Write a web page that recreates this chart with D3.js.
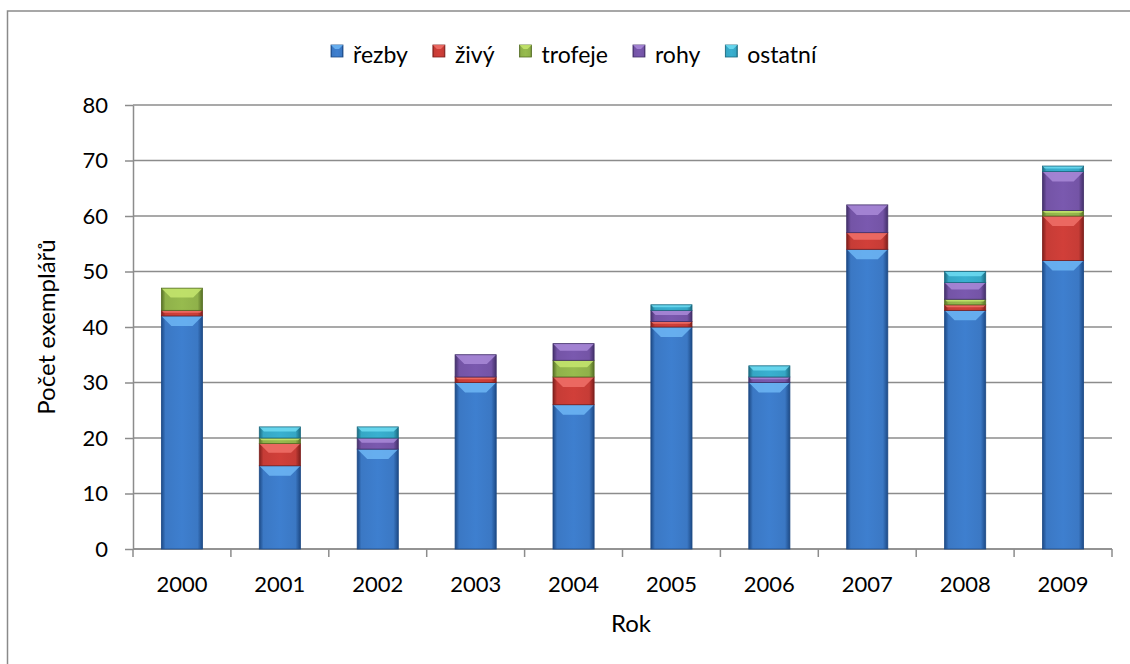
<!DOCTYPE html>
<html>
<head>
<meta charset="utf-8">
<script src="https://cdnjs.cloudflare.com/ajax/libs/d3/7.8.5/d3.min.js"></script>
<style>
  html, body { margin: 0; padding: 0; background: #ffffff; }
  svg { display: block; }
  text { font-family: Lato, "Open Sans", sans-serif; fill: #000; }
</style>
</head>
<body>
<svg id="chart" width="1130" height="664"></svg>
<script>
// ---- data ----
const years   = ["2000","2001","2002","2003","2004","2005","2006","2007","2008","2009"];
const seriesNames = ["řezby","živý","trofeje","rohy","ostatní"];
const rezby   = [42, 15, 18, 30, 26, 40, 30, 54, 43, 52];
const zivy    = [ 1,  4,  0,  1,  5,  1,  0,  3,  1,  8];
const trofeje = [ 4,  1,  0,  0,  3,  0,  0,  0,  1,  1];
const rohy    = [ 0,  0,  2,  4,  3,  2,  1,  5,  3,  7];
const ostatni = [ 0,  2,  2,  0,  0,  1,  2,  0,  2,  1];
const yTicks  = [0, 10, 20, 30, 40, 50, 60, 70, 80];
const yTitle  = "Počet exemplářů";
const xTitle  = "Rok";

// ---- styles ----
const colors = {
  "řezby":   {base:"#3b78c4", dark:"#1d4a86", light:"#6db6f4"},
  "živý":    {base:"#c63c36", dark:"#7e1f1c", light:"#f07068"},
  "trofeje": {base:"#8fb14a", dark:"#566f25", light:"#c6e66e"},
  "rohy":    {base:"#7454a6", dark:"#43306a", light:"#a98ad8"},
  "ostatní": {base:"#36a7c5", dark:"#1b6a80", light:"#6fdcf2"}
};
const gridColor = "#8c8c8c";

const svg = d3.select("#chart");
const pLeft = 133, pRight = 1112, pTop = 105, pBottom = 549;

// chart border
svg.append("rect").attr("x", 7.5).attr("y", 11).attr("width", 1140).attr("height", 700)
  .attr("fill", "#fff").attr("stroke", "#8a8a8a").attr("stroke-width", 1.5);

const table = years.map((yr, i) => ({
  year: yr, "řezby": rezby[i], "živý": zivy[i], "trofeje": trofeje[i], "rohy": rohy[i], "ostatní": ostatni[i]
}));

const x = d3.scaleBand().domain(years).range([pLeft, pRight]).paddingInner(0.58).paddingOuter(0.29);
const y = d3.scaleLinear().domain([0, 80]).range([pBottom, pTop]);

// gradients
const defs = svg.append("defs");
seriesNames.forEach((s, i) => {
  const c = colors[s];
  const g = defs.append("linearGradient").attr("id", "g" + i)
    .attr("x1", "0").attr("x2", "1").attr("y1", "0").attr("y2", "0");
  g.append("stop").attr("offset", "0%").attr("stop-color", c.dark);
  g.append("stop").attr("offset", "10%").attr("stop-color", c.base);
  g.append("stop").attr("offset", "50%").attr("stop-color", d3.color(c.base).brighter(0.15));
  g.append("stop").attr("offset", "88%").attr("stop-color", c.base);
  g.append("stop").attr("offset", "100%").attr("stop-color", c.dark);
});

// gridlines
svg.append("g").selectAll("line").data(yTicks).join("line")
  .attr("x1", pLeft).attr("x2", pRight)
  .attr("y1", d => y(d)).attr("y2", d => y(d))
  .attr("stroke", gridColor).attr("stroke-width", 1.5);

// y axis
const yAxis = d3.axisLeft(y).tickValues(yTicks).tickSize(8).tickPadding(17).tickSizeOuter(0);
const gy = svg.append("g").attr("transform", `translate(${pLeft},0)`).call(yAxis);
gy.select(".domain").attr("stroke", gridColor).attr("stroke-width", 1.5);
gy.selectAll(".tick line").attr("stroke", gridColor).attr("stroke-width", 1.5);
gy.selectAll(".tick text").style("font-family", "Lato, sans-serif").style("font-size", "22px").attr("fill", "#000");

// x axis (ticks at category boundaries)
const boundaries = d3.range(years.length + 1).map(i => pLeft + i * (pRight - pLeft) / years.length);
svg.append("g").selectAll("line").data(boundaries).join("line")
  .attr("x1", d => d).attr("x2", d => d).attr("y1", pBottom).attr("y2", pBottom + 8)
  .attr("stroke", gridColor).attr("stroke-width", 1.5);
svg.append("line").attr("x1", pLeft).attr("x2", pRight).attr("y1", pBottom).attr("y2", pBottom)
  .attr("stroke", gridColor).attr("stroke-width", 1.5);
svg.append("g").selectAll("text").data(years).join("text")
  .attr("x", d => x(d) + x.bandwidth() / 2).attr("y", 592)
  .attr("text-anchor", "middle").style("font-size", "22px").text(d => d);

// stacked bars
const stack = d3.stack().keys(seriesNames)(table);
const bw = x.bandwidth();
stack.forEach((layer, si) => {
  const c = colors[layer.key];
  const g = svg.append("g");
  layer.forEach(d => {
    const v = d[1] - d[0];
    if (v <= 0) return;
    const x0 = x(d.data.year), y0 = y(d[1]), y1 = y(d[0]);
    const h = y1 - y0;
    g.append("rect").attr("x", x0).attr("y", y0).attr("width", bw).attr("height", h)
      .attr("fill", `url(#g${si})`);
    const b = Math.min(10, h * 0.42);
    g.append("polygon")
      .attr("points", [[x0, y0], [x0 + bw, y0], [x0 + bw - b, y0 + b], [x0 + b, y0 + b]].map(p => p.join(",")).join(" "))
      .attr("fill", c.light).attr("opacity", 0.85);
    g.append("rect").attr("x", x0).attr("y", y0).attr("width", bw).attr("height", h)
      .attr("fill", "none").attr("stroke", c.dark).attr("stroke-width", 0.8);
  });
});

// y title
svg.append("text").attr("transform", `translate(55,${(pTop + pBottom) / 2}) rotate(-90)`)
  .attr("text-anchor", "middle").style("font-size", "24px").text(yTitle);
// x title
svg.append("text").attr("x", 631).attr("y", 632).attr("text-anchor", "middle")
  .style("font-size", "24px").text(xTitle);

// legend
const lg = svg.append("g");
let lx = 331;
seriesNames.forEach((s, i) => {
  const c = colors[s];
  lg.append("rect").attr("x", lx).attr("y", 45).attr("width", 12).attr("height", 12)
    .attr("fill", `url(#g${i})`).attr("stroke", c.dark).attr("stroke-width", 0.8);
  lg.append("polygon").attr("points", `${lx},45 ${lx+12},45 ${lx+8},49 ${lx+4},49`)
    .attr("fill", c.light).attr("opacity", 0.85);
  const t = lg.append("text").attr("x", lx + 22).attr("y", 63).style("font-size", "23px").text(s);
  const w = t.node().getComputedTextLength();
  lx = lx + 22 + w + 25;
});
</script>
</body>
</html>
